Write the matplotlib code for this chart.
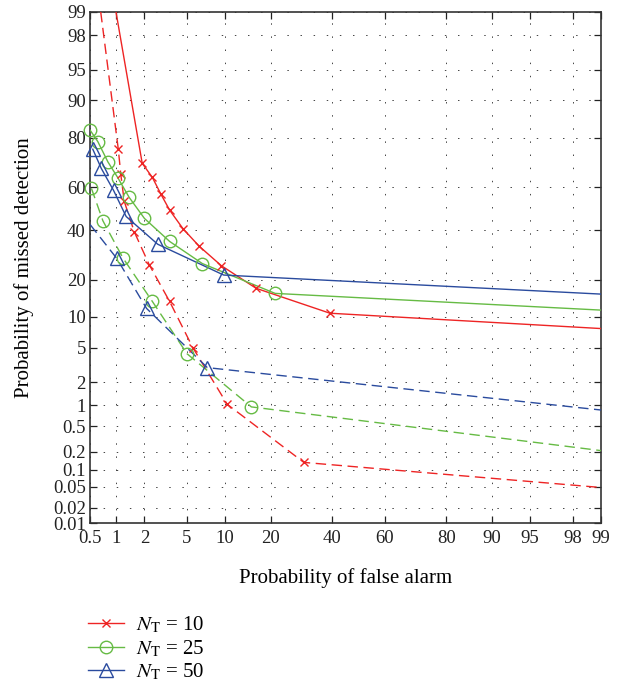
from statistics import NormalDist

import numpy as np
import matplotlib
matplotlib.use("Agg")
import matplotlib.pyplot as plt
from matplotlib.lines import Line2D

plt.rcParams['font.family'] = ['Liberation Serif', 'DejaVu Serif']
plt.rcParams['mathtext.fontset'] = 'stix'

# ----------------------------
# Data (percent)
# ----------------------------
labels = ['10', '25', '50']

# N_T = 10
fa_10_solid = [1.0, 1.9, 2.4, 2.9, 3.5, 4.6, 6.3, 9.4, 16.3, 39.2, 99]
md_10_solid = [99, 70.4, 64.4, 56.8, 49.3, 40.7, 32.9, 25.0, 17.3, 10.8, 7.8]
fa_10_dash = [0.67, 1.06, 1.13, 1.23, 1.57, 2.23, 3.5, 5.6, 10.4, 30.0, 99]
md_10_dash = [99, 75.9, 65.7, 53.5, 39.3, 25.4, 13.6, 5.0, 1.03, 0.134, 0.0485]

# N_T = 25
fa_25_solid = [0.5, 0.62, 0.81, 1.05, 1.39, 2.0, 3.5, 6.7, 21.2, 99]
md_25_solid = [82.4, 78.6, 71.0, 64.2, 55.3, 45.4, 34.9, 25.8, 15.8, 11.5]
fa_25_dash = [0.52, 0.71, 1.19, 2.4, 5.0, 15.2, 99]
md_25_dash = [59.5, 44.3, 28.0, 13.6, 4.3, 0.95, 0.21]

# N_T = 50
fa_50_solid = [0.54, 0.68, 0.94, 1.29, 2.7, 9.8, 99]
md_50_solid = [75.9, 68.3, 58.5, 46.3, 33.7, 21.6, 15.6]
fa_50_dash = [0.38, 1.02, 2.1, 7.35, 99]
md_50_dash = [48.4, 27.8, 11.9, 3.0, 0.86]

x_ticks = [0.5, 1, 2, 5, 10, 20, 40, 60, 80, 90, 95, 98, 99]
y_ticks = [0.01, 0.02, 0.05, 0.1, 0.2, 0.5, 1, 2, 5, 10, 20, 40, 60, 80, 90, 95, 98, 99]

# ----------------------------
# Normal deviate (probit) scale
# ----------------------------
_nd = NormalDist()
_ppf = np.vectorize(_nd.inv_cdf, otypes=[float])
_cdf = np.vectorize(_nd.cdf, otypes=[float])


def probit(p):
    p = np.clip(np.asarray(p, dtype=float) / 100.0, 1e-12, 1 - 1e-12)
    return _ppf(p)


def inv_probit(z):
    return _cdf(np.asarray(z, dtype=float)) * 100.0


# ----------------------------
# Plot
# ----------------------------
red = '#ee2424'
green = '#66bb44'
blue = '#2a4b9e'

fig = plt.figure(figsize=(6.22, 6.84), dpi=100)
ax = fig.add_axes([90 / 622, 1 - 523 / 684, 511 / 622, 511 / 684])
ax.set_xscale('function', functions=(probit, inv_probit))
ax.set_yscale('function', functions=(probit, inv_probit))

dash = (0, (7.5, 4))
series = [
    (fa_10_solid, md_10_solid, red, '-', 'x', 6),
    (fa_10_dash, md_10_dash, red, dash, 'x', 6),
    (fa_25_solid, md_25_solid, green, '-', 'o', 9),
    (fa_25_dash, md_25_dash, green, dash, 'o', 9),
    (fa_50_solid, md_50_solid, blue, '-', '^', 10),
    (fa_50_dash, md_50_dash, blue, dash, '^', 10),
]

for fa, md, col, ls, mk, ms in series:
    fa = np.array(fa)
    md = np.array(md)
    ax.plot(fa, md, color=col, lw=1.0, ls=ls, zorder=3)
    keep = (fa >= 0.5) & (fa < 99) & (md < 99)
    ax.plot(fa[keep], md[keep], ls='none', marker=mk, ms=ms, mew=1.0,
            mfc='none', mec=col, clip_on=False, zorder=4)

ax.set_xlim(0.5, 99)
ax.set_ylim(0.01, 99)
ax.set_xticks(x_ticks)
ax.set_xticklabels([f'{t:g}' for t in x_ticks])
ax.set_yticks(y_ticks)
ax.set_yticklabels([f'{t:g}' for t in y_ticks])
ax.minorticks_off()

ax.grid(True, color='#444444', lw=0.7, ls=(0, (1.5, 12)))
ax.tick_params(direction='in', top=True, right=True, length=5, width=0.9,
               labelsize=13.5, colors='#222222', pad=5)
ax.tick_params(axis='y', pad=3)
for sp in ax.spines.values():
    sp.set_linewidth(1.2)
    sp.set_color('#333333')

ax.set_xlabel('Probability of false alarm', fontsize=15, labelpad=15)
ax.set_ylabel('Probability of missed detection', fontsize=15, labelpad=14)

handles = [
    Line2D([], [], color=red, lw=1.0, marker='x', ms=6, mfc='none'),
    Line2D([], [], color=green, lw=1.0, marker='o', ms=9, mfc='none'),
    Line2D([], [], color=blue, lw=1.0, marker='^', ms=10, mfc='none'),
]
fig.legend(handles, [r'$N_{\mathrm{T}}$ = ' + l for l in labels],
           loc='upper left', bbox_to_anchor=(78 / 622, 1 - 604 / 684),
           frameon=False, fontsize=15, handlelength=1.7, handletextpad=0.6,
           labelspacing=0.15, borderpad=0)

fig.savefig('out.png', dpi=100)
